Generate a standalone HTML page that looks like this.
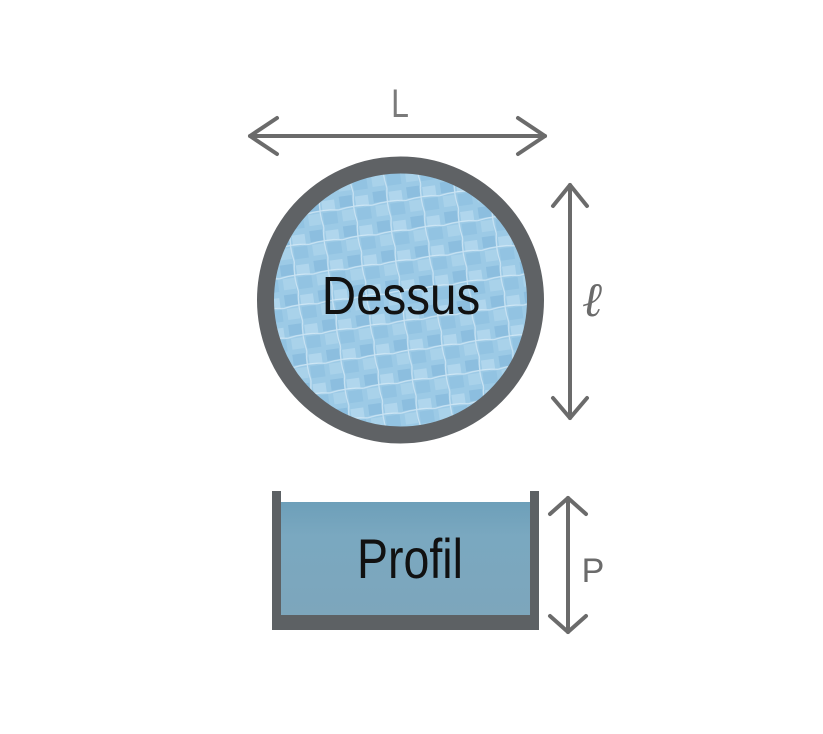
<!DOCTYPE html>
<html><head><meta charset="utf-8"><style>
html,body{margin:0;padding:0;background:#fff;}
svg{display:block;}
</style></head><body>
<svg width="823" height="734" viewBox="0 0 823 734" xmlns="http://www.w3.org/2000/svg">
<defs>
<pattern id="tiles" width="34" height="30" patternUnits="userSpaceOnUse" patternTransform="rotate(-8)">
<rect width="34" height="30" fill="#8fc3e3"/>
<rect x="2" y="2" width="13" height="11" fill="#72aed6" opacity="0.6"/>
<rect x="18" y="4" width="13" height="10" fill="#b0d8ee" opacity="0.7"/>
<rect x="3" y="16" width="12" height="11" fill="#a4d0ea" opacity="0.7"/>
<rect x="18" y="16" width="14" height="12" fill="#7bb5db" opacity="0.6"/>
<path d="M0 15 Q17 12 34 15 M17 0 Q14 15 17 30" stroke="#e6f4fb" stroke-width="1.2" fill="none" opacity="0.6"/>
</pattern>
<linearGradient id="water" x1="0" y1="0" x2="0" y2="1">
<stop offset="0" stop-color="#6d9fb9"/><stop offset="0.3" stop-color="#7aa8c0"/><stop offset="1" stop-color="#7da6bc"/>
</linearGradient>
</defs>
<rect width="823" height="734" fill="#fff"/>
<g stroke="#6b6b6b" stroke-width="4" fill="none" stroke-linecap="round" stroke-linejoin="round">
<line x1="250" y1="136" x2="545" y2="136"/>
<polyline points="277,118 250,136 277,154"/>
<polyline points="518,118 545,136 518,154"/>
<line x1="570" y1="185" x2="570" y2="418"/>
<polyline points="553,206 570,185 587,206"/>
<polyline points="553,398 570,418 587,398"/>
<line x1="568" y1="498" x2="568" y2="632"/>
<polyline points="550,514 568,498 586,514"/>
<polyline points="550,616 568,632 586,616"/>
</g>
<text x="400" y="117" font-family="Liberation Sans, sans-serif" font-size="40" fill="#7a7a7a" text-anchor="middle" transform="translate(400 0) scale(0.8 1) translate(-400 0)">L</text>
<text x="592" y="316" font-family="Liberation Serif, serif" font-style="italic" font-size="48" fill="#6b6b6b" text-anchor="middle">ℓ</text>
<text x="593" y="582" font-family="Liberation Sans, sans-serif" font-size="34" fill="#6b6b6b" text-anchor="middle">P</text>
<circle cx="400.5" cy="300" r="135" fill="url(#tiles)"/>
<circle cx="400.5" cy="300" r="135" fill="#ffffff" opacity="0.12"/>
<circle cx="400.5" cy="300" r="135" fill="none" stroke="#5f6265" stroke-width="17"/>
<text x="401" y="314" font-family="Liberation Sans, sans-serif" font-size="54" fill="#111" text-anchor="middle" transform="translate(401 0) scale(0.88 1) translate(-401 0)">Dessus</text>
<rect x="281" y="502" width="249" height="114" fill="url(#water)"/>
<path d="M272 491 H281 V615 H530 V491 H539 V630 H272 Z" fill="#5d6164"/>
<text x="410" y="578" font-family="Liberation Sans, sans-serif" font-size="56" fill="#111" text-anchor="middle" transform="translate(410 0) scale(0.83 1) translate(-410 0)">Profil</text>
</svg>
</body></html>
